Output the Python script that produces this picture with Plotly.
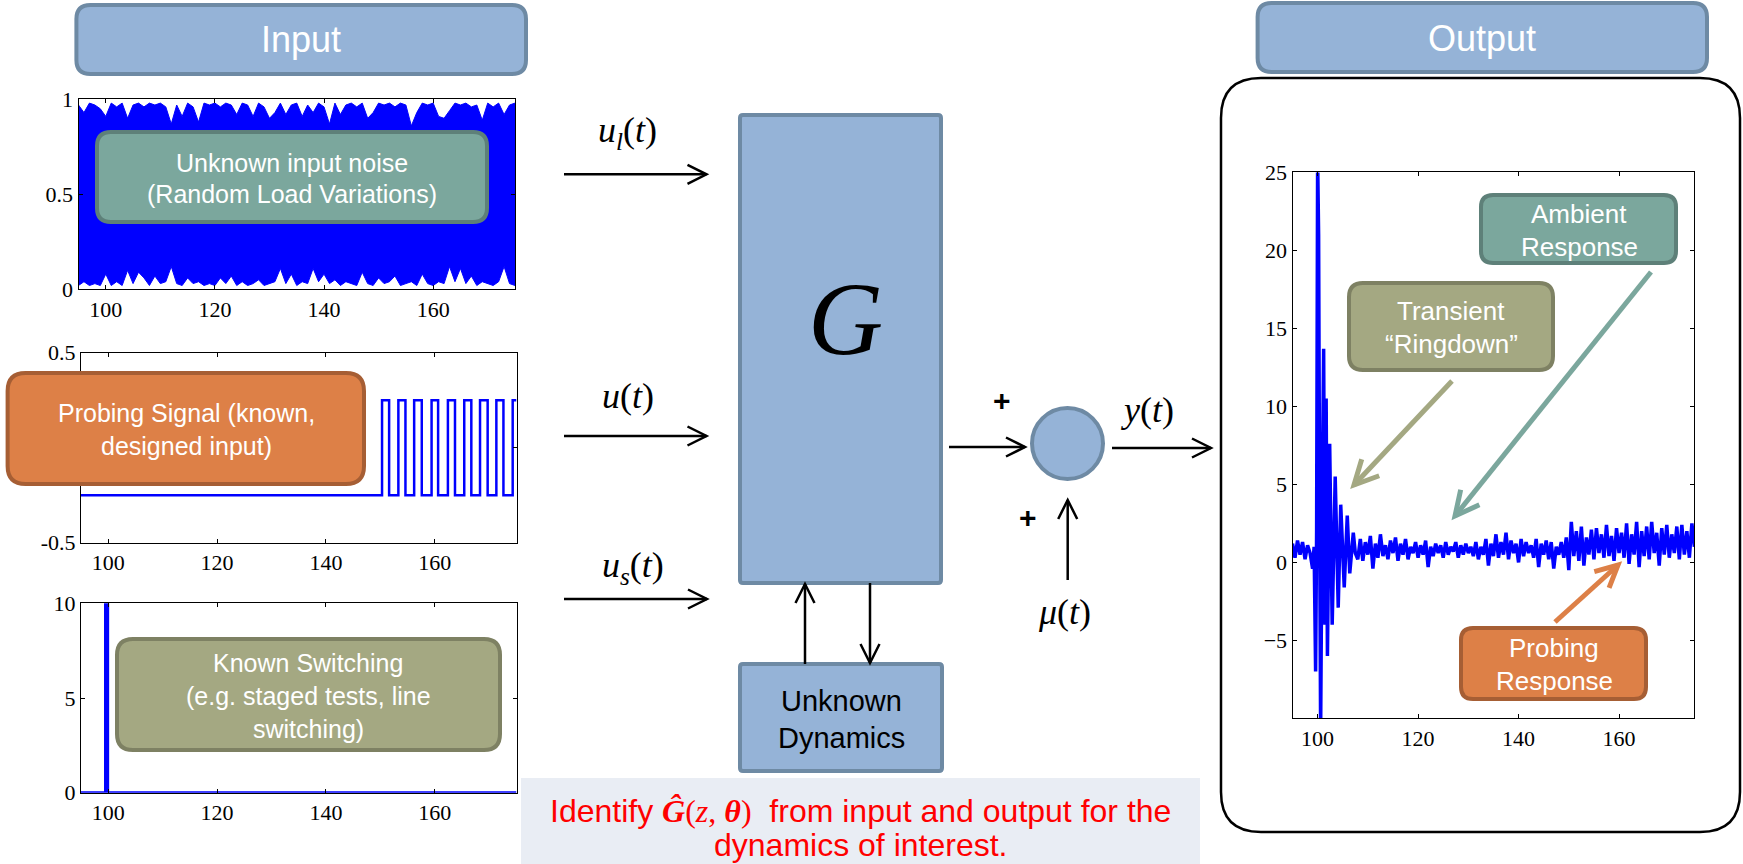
import numpy as np
import plotly.graph_objects as go

W, H = 1743, 864

# ---------------- data ----------------
x_tick_vals = [100, 120, 140, 160]

# Input 1: unknown input noise, upper / lower envelope of the dense signal (t = 95..175)
noise_t = np.arange(95, 176, 1)
noise_upper = [0.97, 0.93, 0.98, 0.97, 0.95, 0.91, 0.98, 0.96, 0.98, 0.90,
               0.97, 0.98, 0.96, 0.98, 0.97, 0.98, 0.96, 0.87, 0.97, 0.91,
               0.98, 0.96, 0.88, 0.98, 0.97, 0.98, 0.96, 0.98, 0.97, 0.92,
               0.98, 0.97, 0.91, 0.98, 0.96, 0.90, 0.93, 0.98, 0.92, 0.97,
               0.98, 0.91, 0.97, 0.93, 0.98, 0.96, 0.87, 0.98, 0.92, 0.97,
               0.98, 0.96, 0.98, 0.90, 0.93, 0.98, 0.97, 0.98, 0.96, 0.98,
               0.97, 0.86, 0.93, 0.98, 0.97, 0.98, 0.91, 0.90, 0.94, 0.98,
               0.97, 0.98, 0.96, 0.97, 0.89, 0.98, 0.96, 0.98, 0.92, 0.97, 0.98]
noise_lower = [0.02, 0.04, 0.02, 0.03, 0.02, 0.08, 0.02, 0.04, 0.02, 0.10,
               0.03, 0.09, 0.06, 0.02, 0.07, 0.03, 0.04, 0.12, 0.03, 0.02,
               0.06, 0.03, 0.04, 0.02, 0.03, 0.02, 0.06, 0.03, 0.07, 0.02,
               0.04, 0.02, 0.03, 0.05, 0.02, 0.03, 0.04, 0.11, 0.03, 0.08,
               0.02, 0.04, 0.03, 0.11, 0.04, 0.08, 0.03, 0.05, 0.02, 0.04,
               0.03, 0.02, 0.09, 0.03, 0.02, 0.06, 0.03, 0.04, 0.07, 0.02,
               0.03, 0.04, 0.02, 0.08, 0.03, 0.02, 0.04, 0.03, 0.12, 0.04,
               0.11, 0.03, 0.07, 0.02, 0.04, 0.03, 0.02, 0.04, 0.12, 0.03, 0.02]

# Input 2: probing square wave (step breakpoints)
probe_t = [95, 150.3, 151.6, 153.3, 154.6, 156.2, 157.6, 159.4, 160.6, 162.4,
           163.7, 165.4, 166.7, 168.3, 169.7, 171.3, 172.6, 174.3, 175]
probe_u = [-0.25, 0.25, -0.25, 0.25, -0.25, 0.25, -0.25, 0.25, -0.25, 0.25,
           -0.25, 0.25, -0.25, 0.25, -0.25, 0.25, -0.25, 0.25, 0.25]

# Input 3: known switching pulse
switch_t = [95, 99.5, 99.5, 99.9, 99.9, 175]
switch_v = [0, 0, 10, 10, 0, 0]

# Output: ringdown part (irregular sampling)
ring_t = [95.0, 95.5, 96.0, 96.5, 97.0, 97.5, 98.0, 98.5, 99.0, 99.3,
          99.6, 99.8, 100.0, 100.2, 100.4, 100.6, 100.9, 101.2, 101.45, 101.7,
          101.95, 102.4, 102.9, 103.5, 104.1, 104.6, 105.3, 105.9, 106.4, 107.1, 107.5]
ring_y = [1.2, 0.3, 1.4, 0.5, 1.3, 0.2, 1.1, 0.6, -0.4, 1.0,
          -7.0, 2.0, 26.0, 21.0, 3.0, -11.0, 3.5, 13.7, -4.0, 10.5,
          -6.0, 7.6, -4.0, 5.5, -2.9, 3.7, -1.6, 3.0, -0.7, 1.9, 0.6]
# Output: ambient response, t = 108 .. 149.5 every 0.5
ambient_t = np.arange(108, 150, 0.5)
ambient_y = [0.2, 1.5, 0.1, 1.3, 0.5, 1.7, -0.4, 1.2, 0.3, 1.8,
             0.4, 1.1, 0.2, 1.4, 0.6, 1.6, 0.1, 1.2, 0.5, 1.5,
             0.2, 1.0, 0.6, 1.3, 0.3, 1.1, 0.5, 1.4, -0.3, 1.0,
             0.4, 1.2, 0.6, 1.1, 0.3, 1.3, 0.5, 1.0, 0.7, 1.3,
             0.3, 1.1, 0.5, 1.2, 0.6, 1.0, 0.4, 1.3, 0.2, 1.0,
             0.5, 1.5, -0.2, 1.2, 0.4, 1.8, 0.3, 1.3, 0.5, 1.9,
             0.2, 1.4, 0.6, 1.2, 0.0, 1.5, 0.4, 1.3, 0.6, 1.1,
             0.3, 1.5, -0.3, 1.2, 0.5, 1.4, 0.2, 1.3, -0.4, 1.0,
             0.5, 1.3, 0.3, 1.6]
# Output: ambient + probing response, t = 150 .. 175 every 0.5
probing_t = np.arange(150, 175.5, 0.5)
probing_y = [-0.5, 2.6, 0.4, 2.0, 0.1, 2.3, -0.2, 1.6, 0.5, 2.1,
             0.2, 2.2, 0.6, 1.8, 0.3, 2.4, 0.4, 1.7, 0.1, 2.2,
             0.6, 1.9, 0.3, 2.5, -0.1, 1.8, 0.5, 2.6, -0.3, 2.0,
             0.4, 2.3, 0.2, 2.6, 0.6, 1.9, -0.2, 2.2, 0.5, 2.4,
             0.3, 1.8, 0.6, 2.3, 0.2, 2.4, 0.5, 2.0, 0.3, 2.5, 1.0]

out_t = list(ring_t) + list(ambient_t) + list(probing_t)
out_y = list(ring_y) + list(ambient_y) + list(probing_y)

# ---------------- styling helpers ----------------
SANS = "Liberation Sans, Arial, sans-serif"
SERIF = "Liberation Serif, Times New Roman, serif"
BLUE = "#0000FF"
BOX_BLUE, BOX_BLUE_LINE = "#95B3D7", "#6E8AA4"
TEAL, TEAL_LINE = "#7BA79D", "#5E8079"
OLIVE, OLIVE_LINE = "#A4A882", "#7E8163"
ORANGE, ORANGE_LINE = "#DD8047", "#A65E34"


def dx(a, b):
    return [a / W, b / W]


def dy(top, bottom):
    return [1 - bottom / H, 1 - top / H]


def P(x, y):
    return f"{x / W:.6f},{1 - y / H:.6f}"


shapes = []
annotations = []


def rrect(x0, y0, x1, y1, r, fill, line, lw):
    path = (f"M {P(x0 + r, y0)} L {P(x1 - r, y0)} Q {P(x1, y0)} {P(x1, y0 + r)} "
            f"L {P(x1, y1 - r)} Q {P(x1, y1)} {P(x1 - r, y1)} "
            f"L {P(x0 + r, y1)} Q {P(x0, y1)} {P(x0, y1 - r)} "
            f"L {P(x0, y0 + r)} Q {P(x0, y0)} {P(x0 + r, y0)} Z")
    shapes.append(dict(type="path", xref="paper", yref="paper", path=path,
                       fillcolor=fill, line=dict(color=line, width=lw), layer="above"))


def arrow(x0, y0, x1, y1, color="black", lw=2.5, L=19, hw=9.5):
    shapes.append(dict(type="line", xref="paper", yref="paper",
                       x0=x0 / W, y0=1 - y0 / H, x1=x1 / W, y1=1 - y1 / H,
                       line=dict(color=color, width=lw), layer="above"))
    d = np.array([x1 - x0, y1 - y0], float)
    d /= np.linalg.norm(d)
    n = np.array([-d[1], d[0]])
    tip = np.array([x1, y1], float)
    a = tip - L * d + hw * n
    b = tip - L * d - hw * n
    shapes.append(dict(type="path", xref="paper", yref="paper",
                       path=f"M {P(*a)} L {P(*tip)} L {P(*b)}",
                       fillcolor="rgba(0,0,0,0)",
                       line=dict(color=color, width=lw), layer="above"))


def text(x, y, s, size, color="white", family=SANS, **kw):
    annotations.append(dict(x=x / W, y=1 - y / H, xref="paper", yref="paper",
                            text=s, showarrow=False, xanchor="center", yanchor="middle",
                            font=dict(family=family, size=size, color=color), **kw))


# ---------------- figure ----------------
fig = go.Figure()

fig.add_trace(go.Scatter(x=noise_t, y=noise_lower, mode="lines", line=dict(color=BLUE, width=1),
                         xaxis="x", yaxis="y", showlegend=False, hoverinfo="skip"))
fig.add_trace(go.Scatter(x=noise_t, y=noise_upper, mode="lines", line=dict(color=BLUE, width=1),
                         fill="tonexty", fillcolor=BLUE,
                         xaxis="x", yaxis="y", showlegend=False, hoverinfo="skip"))
fig.add_trace(go.Scatter(x=probe_t, y=probe_u, mode="lines", line=dict(color=BLUE, width=2.5, shape="hv"),
                         xaxis="x2", yaxis="y2", showlegend=False))
fig.add_trace(go.Scatter(x=switch_t, y=switch_v, mode="lines", line=dict(color=BLUE, width=3),
                         xaxis="x3", yaxis="y3", showlegend=False))
fig.add_trace(go.Scatter(x=out_t, y=out_y, mode="lines", line=dict(color=BLUE, width=3.5),
                         xaxis="x4", yaxis="y4", showlegend=False))

ax = dict(showline=True, linecolor="black", linewidth=1, mirror="ticks", ticks="inside",
          ticklen=4, tickcolor="black", showgrid=False, zeroline=False, automargin=False,
          tickfont=dict(family=SERIF, size=22, color="black"))
xax = dict(ax, range=[95, 175], tickvals=x_tick_vals)

fig.update_layout(
    template="none",
    width=W, height=H, margin=dict(l=0, r=0, t=0, b=0, pad=0, autoexpand=False),
    paper_bgcolor="white", plot_bgcolor="rgba(0,0,0,0)",
    xaxis=dict(xax, domain=dx(78.5, 515), anchor="y"),
    yaxis=dict(ax, domain=dy(99.3, 289.3), anchor="x", range=[0, 1],
               tickvals=[0, 0.5, 1], ticktext=["0", "0.5", "1"]),
    xaxis2=dict(xax, domain=dx(81, 516.5), anchor="y2"),
    yaxis2=dict(ax, domain=dy(352.7, 542.7), anchor="x2", range=[-0.5, 0.5],
                tickvals=[-0.5, 0, 0.5], ticktext=["-0.5", " ", "0.5"]),
    xaxis3=dict(xax, domain=dx(81, 516.5), anchor="y3"),
    yaxis3=dict(ax, domain=dy(603.3, 792.7), anchor="x3", range=[0, 10],
                tickvals=[0, 5, 10]),
    xaxis4=dict(xax, domain=dx(1292.5, 1694.4), anchor="y4"),
    yaxis4=dict(ax, domain=dy(172.4, 718.4), anchor="x4", range=[-10, 25],
                tickvals=[-5, 0, 5, 10, 15, 20, 25]),
)

# ---- diagram ----
# headers
rrect(76.4, 5, 526, 74, 14, BOX_BLUE, BOX_BLUE_LINE, 4)
text(301, 40, "Input", 36)
rrect(1257.6, 3, 1707, 72, 14, BOX_BLUE, BOX_BLUE_LINE, 4)
text(1482, 38, "Output", 36)

# output frame
rrect(1221, 78, 1740, 832, 40, "rgba(0,0,0,0)", "black", 2.5)

# input annotation boxes
rrect(97, 132, 487, 222, 14, TEAL, TEAL_LINE, 4)
text(292, 163, "Unknown input noise", 25)
text(292, 194, "(Random Load Variations)", 25)

rrect(7.6, 373, 364, 484, 18, ORANGE, ORANGE_LINE, 4)
text(186, 413, "Probing Signal (known,", 25)
text(186, 446, "designed input)", 25)

rrect(117, 639, 500, 750, 16, OLIVE, OLIVE_LINE, 4)
text(308, 663, "Known Switching", 25)
text(308, 696, "(e.g. staged tests, line", 25)
text(308, 729, "switching)", 25)

# G block and unknown dynamics
rrect(740, 115, 941, 583, 3, BOX_BLUE, BOX_BLUE_LINE, 4)
text(845, 318, "<i>G</i>", 104, color="black", family=SERIF)
rrect(740, 664, 942, 771, 3, BOX_BLUE, BOX_BLUE_LINE, 4)
text(841, 701, "Unknown", 29, color="black")
text(841, 738, "Dynamics", 29, color="black")

# summing junction
shapes.append(dict(type="circle", xref="paper", yref="paper",
                   x0=1032 / W, x1=1103 / W, y0=1 - 479 / H, y1=1 - 408 / H,
                   fillcolor=BOX_BLUE, line=dict(color=BOX_BLUE_LINE, width=4), layer="above"))

# black arrows
arrow(564, 174.3, 706.5, 174.3)
arrow(564, 436, 706.5, 436)
arrow(564, 599, 707, 599)
arrow(949, 447, 1025, 447)
arrow(1112, 448, 1211, 448)
arrow(1067.7, 580, 1067.7, 500)
arrow(805, 664, 805, 584)
arrow(870, 583, 870, 663)

# signal labels
text(627, 132, "<i>u</i><sub><i>l</i></sub>(<i>t</i>)", 36, color="black", family=SERIF)
text(628, 396, "<i>u</i>(<i>t</i>)", 36, color="black", family=SERIF)
text(633, 567, "<i>u</i><sub><i>s</i></sub>(<i>t</i>)", 36, color="black", family=SERIF)
text(1147, 410, "<i>y</i>(<i>t</i>)", 36, color="black", family=SERIF)
text(1064, 612, "<i>μ</i>(<i>t</i>)", 36, color="black", family=SERIF)
text(1002, 400, "<b>+</b>", 30, color="black")
text(1028, 517, "<b>+</b>", 30, color="black")

# output annotation boxes and arrows
rrect(1481, 195, 1676, 263, 12, TEAL, TEAL_LINE, 4)
text(1579, 214, "Ambient", 26)
text(1579, 247, "Response", 26)
rrect(1349, 283, 1553, 370, 14, OLIVE, OLIVE_LINE, 4)
text(1451, 311, "Transient", 26)
text(1451, 344, "\u201cRingdown\u201d", 26)
rrect(1461, 628, 1646, 699, 12, ORANGE, ORANGE_LINE, 4)
text(1554, 648, "Probing", 26)
text(1554, 681, "Response", 26)

arrow(1452, 381, 1354, 485, color=OLIVE, lw=5, L=24, hw=12)
arrow(1651, 272, 1455, 516, color=TEAL, lw=5, L=24, hw=12)
arrow(1555, 622, 1618, 565, color=ORANGE, lw=5, L=22, hw=11)

# bottom statement
shapes.append(dict(type="rect", xref="paper", yref="paper",
                   x0=521 / W, x1=1200 / W, y0=0, y1=1 - 778 / H,
                   fillcolor="#E9EDF4", line=dict(width=0), layer="above"))
math = ('<span style="font-family:Liberation Serif, serif"><b><i>Ĝ</i></b>(<i>z</i>, '
        '<b><i>θ</i></b>)</span>')
text(860, 811, "Identify " + math + "&nbsp;&nbsp;from input and output for the", 32,
     color="#FF0000")
text(860, 845, "dynamics of interest.", 32, color="#FF0000")

fig.update_layout(shapes=shapes, annotations=annotations)
fig.write_html("out.html")
